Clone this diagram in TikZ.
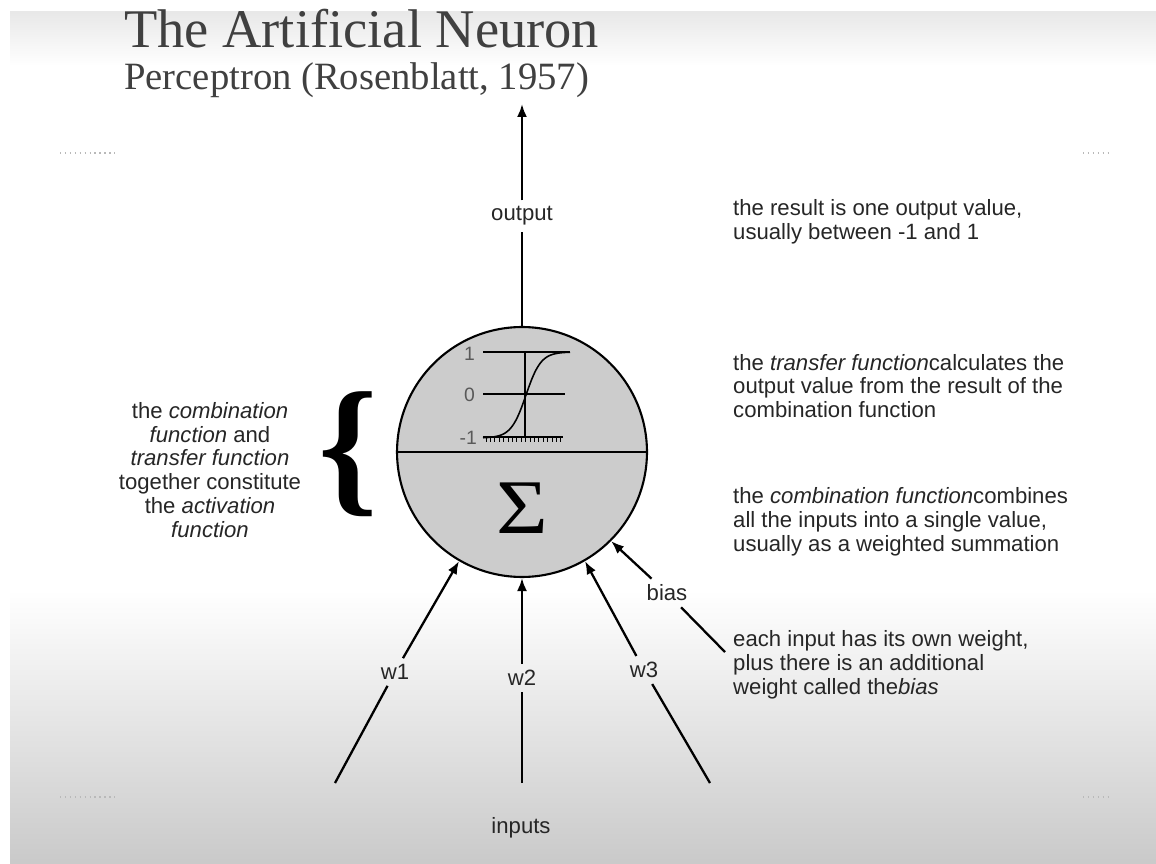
\documentclass[tikz,border=0pt]{standalone}
\usepackage{fontspec}
\usepackage{graphicx}
\setmainfont{Liberation Serif}
\setsansfont{Liberation Sans}
\usetikzlibrary{arrows.meta}

\begin{document}
\begin{tikzpicture}[x=0.02cm, y=-0.02cm,
  every node/.style={font=\sffamily\fontsize{12.6}{13.6}\selectfont, text=black!85},
  conn/.style={line width=1.3pt},
  arr/.style={conn, -{Latex[length=0.26cm, width=0.2cm]}},
  note/.style={anchor=west, align=left},
  tick/.style={line width=0.5pt}]
  \useasboundingbox (0,0) rectangle (1156,864);
  % slide background
  \fill[white] (0,0) rectangle (1156,864);
  \shade[top color=gray!18, bottom color=white] (10,12) rectangle (1156,66);
  \shade[top color=white, bottom color=gray!42] (10,590) rectangle (1156,864);
  \draw[gray!55, dotted, line width=0.8pt] (60,153) -- (115,153) (1083,153) -- (1110,153);
  \draw[gray!55, dotted, line width=0.8pt] (60,797) -- (115,797) (1083,797) -- (1110,797);

  \node[anchor=base west, font=\rmfamily\fontsize{31}{31}\selectfont, text=black!75] (title) at (118,48) {The Artificial Neuron};
  \node[anchor=base west, font=\rmfamily\fontsize{22}{22}\selectfont, text=black!75] (subtitle) at (118,90) {Perceptron (Rosenblatt, 1957)};

  % neuron
  \node[circle, draw, line width=1.2pt, fill=gray!40, minimum size=5cm, inner sep=0pt] (neuron) at (522,452) {};
  \draw[line width=1.2pt] (neuron.west) -- (neuron.east);
  \node[font=\rmfamily\fontsize{44}{44}\selectfont, text=black] (sum) at (522,508) {\scalebox{1.15}[1]{Σ}};

  % transfer function plot
  \draw[line width=0.9pt] (483,352) -- (570,352);
  \draw[line width=0.9pt] (483,394) -- (565,394);
  \draw[line width=0.9pt] (483,437) -- (563,437);
  \draw[line width=0.9pt] (525,352) -- (525,437);
  \foreach \t in {0,...,17}
    \draw[tick] (486+4.4*\t,437) -- ++(0,5);
  \draw[line width=0.9pt] plot[domain=483:570, samples=60] (\x, {395-43*tanh((\x-526)/15)});
  \node[anchor=east, inner sep=1pt, text=black!65, font=\sffamily\fontsize{11}{11}\selectfont] (vone) at (477,354) {1};
  \node[anchor=east, inner sep=1pt, text=black!65, font=\sffamily\fontsize{11}{11}\selectfont] (vzero) at (477,395) {0};
  \node[anchor=east, inner sep=1pt, text=black!65, font=\sffamily\fontsize{11}{11}\selectfont] (vmone) at (479,438) {-1};

  % output
  \coordinate (outtip) at (522,104);
  \node (output) at (522,216) {output};
  \draw[conn] (neuron.north) -- (output);
  \draw[arr] (output) -- (outtip);

  % inputs
  \coordinate (in1) at (335,783);
  \coordinate (in2) at (522,783);
  \coordinate (in3) at (710,783);
  \node (w1) at (395,672) {w1};
  \node (w2) at (522,678) {w2};
  \node (w3) at (644,670) {w3};
  \draw[conn] (in1) -- (w1);
  \draw[conn] (in2) -- (w2);
  \draw[conn] (in3) -- (w3);
  \draw[arr] (w1) -- (neuron.240);
  \draw[arr] (w2) -- (neuron.south);
  \draw[arr] (w3) -- (neuron.300);
  \node (inputs) at (521,828) {inputs};

  % bias
  \node (bias) at (667,593) {bias};
  \coordinate (biasend) at (725,652);
  \draw[arr] (bias) -- (neuron.315);
  \draw[conn] (bias) -- (biasend);

  % brace and left text
  \node[font=\rmfamily\bfseries\fontsize{86}{86}\selectfont, text=black] (brace) at (348,454) {\{};
  \node[align=center] (activation) at (210,470) {the \textit{combination}\\\textit{function} and\\\textit{transfer function}\\together constitute\\the \textit{activation}\\\textit{function}};

  % right notes
  \node[note] (resnote) at (727,222) {the result is one output value,\\usually between -1 and 1};
  \node[note] (transnote) at (727,386) {the \textit{transfer function}calculates the\\output value from the result of the\\combination function};
  \node[note] (combnote) at (727,522) {the \textit{combination function}combines\\all the inputs into a single value,\\usually as a weighted summation};
  \node[note] (weightnote) at (727,665) {each input has its own weight,\\plus there is an additional\\weight called the\textit{bias}};
\end{tikzpicture}
\end{document}
